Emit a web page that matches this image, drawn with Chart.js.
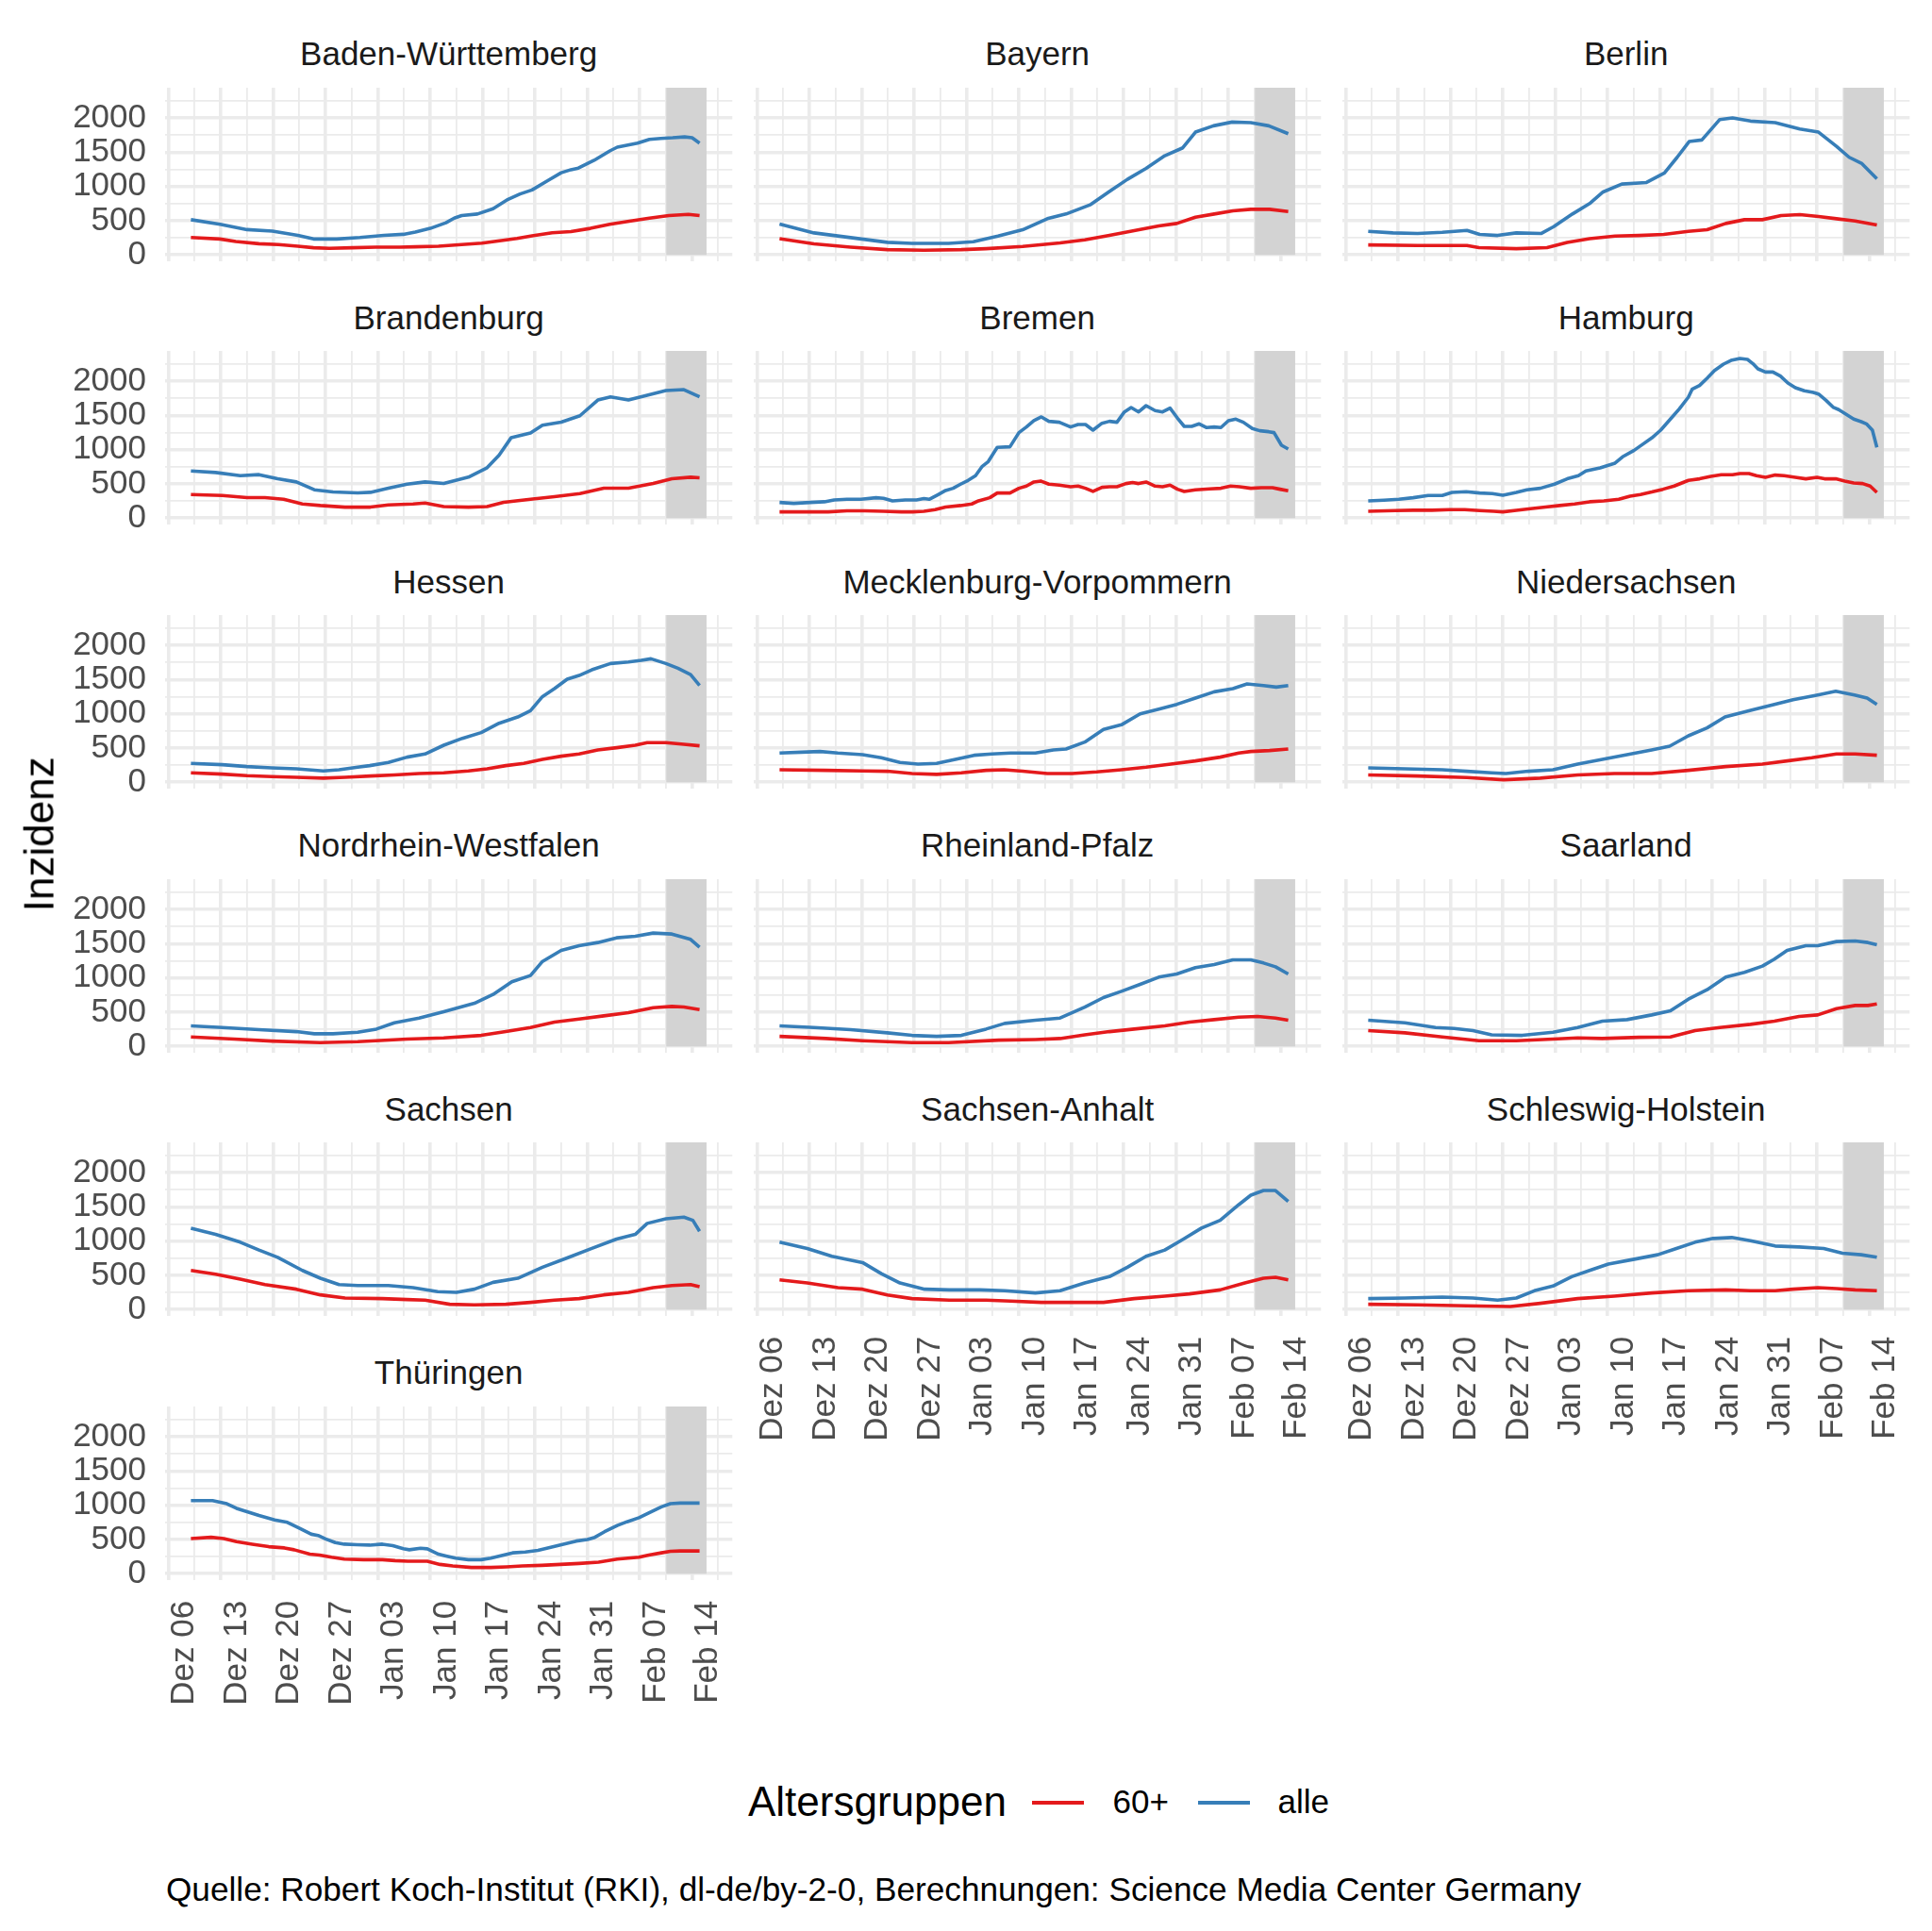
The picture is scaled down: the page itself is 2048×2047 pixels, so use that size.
<!DOCTYPE html>
<html lang="de">
<head>
<meta charset="utf-8">
<title>Inzidenz nach Altersgruppen</title>
<script src="https://cdn.jsdelivr.net/npm/chart.js@4.4.1/dist/chart.umd.min.js"></script>
<style>
html,body{margin:0;padding:0;background:#ffffff;}
body{position:relative;width:2048px;height:2047px;overflow:hidden;font-family:"Liberation Sans",Arial,Helvetica,sans-serif;}
canvas{position:absolute;}
.txt{position:absolute;white-space:nowrap;}
</style>
</head>
<body>
<script>
// ---------- data (day index: 0 = Dez 06) ----------
const tickLabels = ['Dez 06','Dez 13','Dez 20','Dez 27','Jan 03','Jan 10','Jan 17','Jan 24','Jan 31','Feb 07','Feb 14'];
const yLabels = [0, 500, 1000, 1500, 2000];
const seriesNames = ['60+', 'alle'];
const stateNames = ['Baden-Württemberg','Bayern','Berlin','Brandenburg','Bremen','Hamburg','Hessen','Mecklenburg-Vorpommern','Niedersachsen','Nordrhein-Westfalen','Rheinland-Pfalz','Saarland','Sachsen','Sachsen-Anhalt','Schleswig-Holstein','Thüringen'];
const delayFrom = 66.55, delayTo = 71.93;   // grey band (Meldeverzug)

const bw60 = [[3,255],[6.9,233],[9,196],[12.1,164],[14.7,151],[17.3,128],[19.4,105],[21.5,96],[24.6,105],[27.7,114],[30.9,114],[33,119],[36.1,128],[39.2,151],[41.9,173],[44.5,210],[46.6,242],[48.6,278],[51.3,324],[53.8,342],[56.4,388],[59,447],[61.6,493],[64.3,538],[66.9,575],[69.5,593],[71,575]];
const bwAlle = [[3,515],[6.9,447],[10.5,370],[13.9,347],[17.3,287],[19.4,233],[22.5,233],[25.6,255],[28.8,287],[31.4,301],[33,333],[35,388],[37.1,470],[38.2,538],[39.2,575],[41.3,598],[43.4,675],[45.4,812],[47,890],[48.6,949],[50.7,1086],[52.5,1200],[53.8,1245],[54.8,1268],[56.9,1382],[59,1519],[60,1574],[62.7,1633],[64.3,1688],[65.8,1702],[67.4,1711],[69,1724],[70,1711],[71,1633]];
const by60 = [[3,239],[7.6,161],[12.5,115],[17.4,78],[22.3,69],[27.3,78],[30.6,92],[35.5,124],[40.5,175],[43.8,221],[47.1,285],[50.4,354],[53.7,423],[56.1,460],[58.6,552],[61.1,598],[63.6,644],[66,667],[68.5,667],[71,635]];
const byAlle = [[3,451],[7.6,322],[12.5,253],[17.4,184],[20.7,170],[25.6,170],[28.9,193],[32.2,276],[35.5,368],[38.8,529],[41.3,598],[44.6,736],[47,920],[49.5,1104],[52,1265],[54.5,1449],[56.9,1564],[58.6,1794],[61,1886],[63.5,1941],[66,1932],[68.4,1886],[71,1771]];
const be60 = [[3,147],[9.6,138],[16.2,138],[17.8,106],[22.8,92],[26.9,106],[29.6,184],[32.6,239],[36,276],[39.2,285],[42.5,299],[45.8,345],[48.3,368],[50.8,460],[53.3,515],[55.7,515],[58.2,575],[60.7,589],[63.2,561],[65.6,529],[68.1,497],[71,437]];
const beAlle = [[3,345],[6.3,322],[9.6,313],[12.9,331],[16.2,359],[17.9,299],[20.3,285],[22.8,322],[26.1,313],[27.8,414],[30.3,598],[32.7,759],[34.4,920],[36.9,1035],[40.2,1058],[42.6,1196],[44.3,1426],[45.9,1656],[47.6,1679],[50,1978],[51.7,2001],[54.1,1955],[57.4,1932],[60.7,1840],[63.2,1794],[65.6,1587],[67.3,1426],[69,1334],[71,1113]];
const bb60 = [[3,345],[7.2,331],[10.5,299],[12.9,299],[15.4,276],[17.9,207],[20.3,184],[23.6,161],[27,161],[29.4,193],[32.7,207],[34.3,221],[36.8,170],[40.1,161],[42.6,170],[44.8,230],[48.4,276],[51.6,313],[55,359],[58.2,437],[61.5,437],[64.8,506],[67.3,575],[69.8,598],[71,589]];
const bbAlle = [[3,690],[6.3,667],[9.6,621],[12.1,635],[14.6,575],[17.1,529],[19.5,414],[22,382],[25.3,368],[27,377],[29.4,437],[31.9,497],[34.3,529],[36.8,506],[40.1,598],[42.6,736],[44.2,920],[45.8,1173],[48.4,1242],[50,1357],[52.5,1403],[55,1495],[57.4,1725],[59.1,1771],[61.5,1725],[64,1794],[66.5,1863],[68.9,1877],[71,1771]];
const hb60 = [[3,92],[7.1,92],[9.5,92],[12,106],[14.4,106],[16.9,101],[19.3,92],[20.8,92],[22.3,101],[23.8,124],[25.2,161],[27.2,184],[28.7,207],[29.6,252],[31.1,298],[32.1,367],[33.8,367],[35,436],[36,468],[37,528],[37.9,542],[39,496],[40.4,482],[41.9,459],[42.9,468],[43.9,436],[44.9,390],[46.1,450],[47.1,459],[48.1,459],[49.3,505],[50.2,519],[51,505],[52,528],[53.2,468],[54.2,459],[55.2,482],[56.2,422],[57.1,390],[58.6,413],[60.5,427],[62,436],[63.3,468],[64.5,459],[66,436],[67.4,445],[68.9,445],[69.9,422],[71,399]];
const hbAlle = [[3,229],[4.9,216],[7.1,229],[9,239],[10.3,266],[12,275],[13.9,275],[15.9,298],[16.9,289],[18.1,252],[19.8,266],[21.3,266],[22.3,285],[23,275],[24.2,344],[25.2,404],[26.2,436],[27.2,496],[28.2,551],[29.2,620],[30.1,757],[30.9,826],[32.1,1033],[33.8,1042],[35,1249],[36,1331],[37,1423],[38,1478],[39,1414],[40.4,1400],[41.9,1331],[42.9,1368],[43.9,1368],[44.9,1285],[46.1,1386],[47.1,1414],[48.1,1400],[49.1,1551],[50,1616],[51,1551],[52,1643],[53.2,1570],[54.2,1551],[55.2,1607],[56.2,1460],[57.1,1340],[58.1,1340],[59.1,1377],[60.1,1322],[61.1,1331],[62,1322],[63,1423],[64,1446],[65,1400],[66.2,1308],[67.2,1276],[68.4,1262],[69.1,1249],[70.1,1065],[71,1010]];
const hh60 = [[3,101],[6.6,110],[9,115],[11.5,115],[13.9,124],[15.9,124],[17.9,110],[19.8,101],[21,92],[22.8,115],[24.7,138],[26.7,161],[28.6,184],[30.6,207],[32.6,239],[34.5,252],[36.5,275],[38,321],[39.4,344],[40.9,381],[42.4,422],[43.9,468],[45.8,551],[47.3,574],[48.8,610],[50.2,633],[51.7,633],[52.7,652],[53.9,652],[54.9,620],[56.1,597],[57.4,629],[58.6,620],[60.1,597],[61.5,574],[63,597],[64,574],[65.5,574],[66.7,542],[67.9,514],[69.1,505],[70.1,468],[71,376]];
const hhAlle = [[3,252],[5.1,262],[7.1,275],[9,298],[11,330],[12.9,330],[14.2,376],[16.1,386],[17.9,367],[19.6,358],[21,335],[22.8,376],[24.2,413],[26,436],[27.9,496],[29.6,574],[31.1,620],[32.1,689],[34,734],[36,803],[37,895],[38.5,987],[39.4,1056],[40.9,1170],[42.1,1285],[43.4,1446],[44.6,1597],[45.8,1767],[46.3,1882],[47.3,1937],[48.3,2043],[49.3,2157],[50.5,2249],[51.5,2304],[52.7,2332],[53.7,2318],[54.4,2258],[55.1,2180],[56.1,2134],[57.1,2134],[58.1,2075],[59.1,1974],[60.1,1905],[61.3,1859],[62.5,1836],[63.2,1813],[64.2,1721],[65.2,1616],[65.9,1584],[66.9,1515],[67.9,1446],[68.9,1409],[69.6,1377],[70.4,1285],[71,1033]];
const he60 = [[3,138],[7.2,119],[10.5,96],[13.8,83],[17.1,73],[20.7,60],[23.6,73],[27,92],[30.2,106],[33.5,128],[36.8,138],[40.1,165],[42.6,197],[45.1,243],[47.5,275],[50,335],[52.5,381],[54.9,413],[57.4,472],[59.9,505],[62.4,541],[64,578],[66.5,578],[68.9,555],[71,532]];
const heAlle = [[3,275],[7.2,257],[10.5,229],[13.8,211],[17.1,197],[18.7,183],[20.7,165],[22.8,183],[25.3,220],[26.9,243],[29.4,289],[31.9,367],[34.3,413],[36.8,541],[39.3,642],[41.8,725],[44.2,862],[46.7,954],[48.4,1046],[50,1252],[51.6,1367],[53.3,1505],[54.9,1560],[56.6,1642],[59.1,1734],[61.5,1757],[63.2,1780],[64.5,1803],[66.5,1734],[68.1,1665],[69.8,1573],[71,1413]];
const mv60 = [[3,183],[9.2,174],[14.1,165],[17.4,161],[20.7,128],[24,115],[27.3,138],[30.6,174],[33,183],[35.5,161],[38.8,128],[42.1,128],[45.4,151],[48.7,183],[52,220],[55.3,266],[58.6,312],[61.9,367],[64.4,427],[66,450],[68.5,463],[71,486]];
const mvAlle = [[3,427],[5.9,440],[8.4,450],[10.8,427],[14.1,404],[16.6,358],[19.1,289],[21.5,266],[24,275],[26.5,335],[29,394],[31.4,413],[33.9,427],[37.2,427],[39.6,472],[41.3,486],[43.8,587],[46.3,771],[48.7,839],[51.2,1000],[53.7,1069],[56.1,1138],[58.6,1229],[61.1,1321],[63.6,1367],[65.5,1436],[67.7,1413],[69.4,1390],[71,1413]];
const ni60 = [[3,106],[9.6,92],[16.2,69],[21.1,37],[26,60],[31,106],[35.9,128],[40.9,128],[45.8,174],[50.8,229],[55.7,266],[59,312],[62.3,358],[65.6,413],[68.1,413],[71,394]];
const niAlle = [[3,211],[7.9,197],[12.9,183],[16.2,161],[19.5,138],[21.4,128],[24.4,161],[27.7,183],[31,266],[34.3,335],[37.6,404],[40.9,472],[43.3,527],[45.8,679],[48.3,794],[50.7,954],[54,1046],[57.3,1138],[59.8,1206],[63.1,1275],[65.5,1330],[68,1275],[69.7,1229],[71,1138]];
const nw60 = [[3,138],[8.8,106],[13.8,78],[20.3,55],[25.3,69],[31.9,106],[36.8,124],[41.8,161],[45.1,216],[48.4,276],[51.6,354],[54.9,400],[58.2,446],[61.5,492],[64.8,566],[67.3,584],[68.9,575],[71,538]];
const nwAlle = [[3,299],[7.2,276],[12.1,244],[17.1,216],[19.5,184],[22,184],[25.3,207],[27.8,253],[30.2,345],[33.5,414],[36.8,506],[40.9,630],[43.4,759],[45.9,943],[48.4,1035],[50,1241],[52.5,1402],[54.9,1471],[57.4,1517],[59.9,1586],[62.4,1609],[64.8,1655],[67.3,1641],[69.8,1563],[71,1448]];
const rp60 = [[3,147],[9.2,115],[14.1,83],[20.7,55],[25.6,55],[32.3,92],[37.2,101],[40.5,115],[43.8,170],[47.1,216],[50.4,253],[54.5,299],[57.8,354],[61.1,391],[64.4,428],[66.9,437],[69.3,414],[71,382]];
const rpAlle = [[3,299],[7.6,276],[12.5,244],[17.4,198],[20.7,161],[24,147],[27.3,161],[30.6,253],[33.1,336],[37.2,382],[40.5,414],[43.8,575],[46.3,713],[48.7,805],[51.2,906],[53.7,1012],[56.1,1058],[58.6,1150],[61.1,1196],[63.6,1264],[66,1264],[67.7,1218],[69.3,1163],[71,1058]];
const sl60 = [[3,230],[7.9,198],[12.9,138],[17.8,83],[22.8,83],[27.7,106],[31,124],[34.3,115],[39.2,133],[43.4,138],[46.7,230],[50,276],[54.1,322],[57.3,368],[60.6,437],[63.1,460],[65.6,552],[68.1,598],[69.8,598],[71,621]];
const slAlle = [[3,382],[7.9,345],[12,276],[14.5,262],[17,230],[19.5,170],[23.6,161],[27.7,207],[31,276],[34.3,368],[37.6,391],[40.9,460],[43.4,520],[45.8,690],[48.3,828],[50.8,1012],[53.3,1081],[55.7,1173],[57.3,1274],[59,1402],[61.5,1471],[63.1,1471],[65.6,1531],[68.1,1540],[69.8,1517],[71,1485]];
const sn60 = [[3,572],[6.3,517],[9.6,444],[12.9,366],[17.1,298],[20.3,215],[23.6,169],[28.6,160],[31.9,146],[34.3,137],[37.6,78],[40.9,69],[45.1,78],[48.4,105],[51.6,137],[54.9,160],[58.2,215],[61.5,252],[64.8,320],[67.3,352],[69.8,366],[71,334]];
const snAlle = [[3,1190],[6.3,1098],[9.6,984],[12.1,870],[14.6,764],[17.9,572],[20.3,458],[22.8,366],[25.3,352],[29.4,352],[32.7,320],[36,261],[38.5,252],[40.9,298],[43.4,398],[46.7,458],[50,618],[53.3,755],[56.6,893],[59.9,1030],[62.4,1098],[64,1259],[66.5,1327],[68.9,1350],[70.1,1304],[71,1144]];
const st60 = [[3,435],[6.7,389],[10.8,320],[14.1,298],[17.4,215],[20.7,160],[25.7,137],[30.6,137],[33.9,124],[38,105],[42.1,105],[46.3,105],[50.4,160],[54.5,197],[57.8,229],[61.9,288],[65.2,389],[67.7,458],[69.3,471],[71,435]];
const stAlle = [[3,984],[6.7,893],[10,778],[14.1,687],[16.6,526],[19.1,389],[22.4,298],[25.7,288],[29.8,288],[33.1,275],[37.2,243],[40.5,275],[43.8,389],[47.1,481],[49.5,618],[52,778],[54.5,870],[57,1030],[59.4,1190],[61.9,1304],[64.4,1533],[66,1670],[67.7,1739],[69.3,1739],[71,1579]];
const sh60 = [[3,78],[9.6,69],[16.2,55],[22,46],[26,92],[31,160],[35.9,197],[40.9,243],[45.8,275],[50.8,288],[54.1,275],[57.4,275],[59.8,298],[63.1,320],[65.6,307],[68.1,288],[71,275]];
const shAlle = [[3,160],[7.9,169],[12.9,183],[17,169],[20.3,137],[22.8,169],[25.2,275],[27.7,343],[30.2,481],[32.6,572],[35.1,664],[38.4,732],[41.7,801],[44.2,893],[46.7,984],[49.1,1039],[51.6,1053],[54.1,1007],[57.4,929],[60.6,915],[63.9,893],[66.4,824],[68.9,801],[71,764]];
const th60 = [[3,514],[5.7,532],[7.4,514],[9.1,468],[11.2,432],[13.4,395],[15.5,377],[16.8,350],[18.9,286],[20.2,273],[21.8,241],[23.5,214],[26.1,205],[28.6,205],[30.3,191],[32,182],[34.6,182],[36.3,136],[38,114],[40.5,91],[43.1,91],[45.2,100],[47.3,114],[49.9,123],[52.4,136],[54.9,150],[57.5,168],[60,214],[62.9,241],[64.2,273],[65.9,305],[67.1,327],[68.4,332],[71,332]];
const thAlle = [[3,1068],[5.9,1068],[7.8,1023],[9.1,955],[10.4,909],[12.1,850],[14.2,786],[15.9,750],[17.6,659],[19.1,577],[20,559],[21,509],[22.3,455],[23.5,432],[25.2,423],[26.9,418],[28.6,432],[30,409],[31.4,364],[32.2,350],[33.7,373],[34.6,364],[36.1,286],[37.1,259],[38.4,227],[40.1,205],[41.8,205],[43.1,227],[44.8,273],[46,305],[47.7,318],[49.4,341],[51.1,386],[52.8,432],[54.5,477],[56,500],[57,532],[58.3,614],[60,705],[61.3,759],[62.9,818],[64.2,886],[65.9,977],[67.1,1023],[68.4,1032],[71,1032]];

const series60 = [bw60, by60, be60, bb60, hb60, hh60, he60, mv60, ni60, nw60, rp60, sl60, sn60, st60, sh60, th60];
const seriesAlle = [bwAlle, byAlle, beAlle, bbAlle, hbAlle, hhAlle, heAlle, mvAlle, niAlle, nwAlle, rpAlle, slAlle, snAlle, stAlle, shAlle, thAlle];

// ---------- layout / style ----------
const FONT = '"Liberation Sans", Arial, Helvetica, sans-serif';
const COLORS = ['#E41A1C', '#377EB8'];
const X_MIN = -0.45, X_MAX = 75.38, Y_MIN = -90, Y_MAX = 2442;
const COL_L = [175, 799, 1423], ROW_T0 = 92.7, ROW_STEP = 279.6;
const PW = 601.3, PH = 183.8;
const SMALL = 35, BIG = 44;

Chart.defaults.font.family = FONT;

const xGrid = []; for (let v = 0; v <= 73.5; v += 3.5) xGrid.push(v);
const yGrid = []; for (let v = 0; v <= 2250; v += 250) yGrid.push(v);

function addText(str, x, baseline, size, color, align, extra) {
  const d = document.createElement('div');
  d.className = 'txt';
  d.textContent = str;
  d.style.fontSize = size + 'px';
  d.style.lineHeight = size + 'px';
  d.style.color = color;
  d.style.top = (baseline - 0.8465 * size) + 'px';
  d.style.left = x + 'px';
  if (align === 'center') d.style.transform = 'translateX(-50%)';
  if (extra) Object.assign(d.style, extra);
  document.body.appendChild(d);
  return d;
}

function noPad(s) { s.paddingLeft = 0; s.paddingRight = 0; s.paddingTop = 0; s.paddingBottom = 0; }

const shadePlugin = {
  id: 'delayShade',
  beforeDatasetsDraw(chart) {
    const {ctx, chartArea, scales} = chart;
    const x0 = scales.x.getPixelForValue(delayFrom);
    const x1 = scales.x.getPixelForValue(delayTo);
    const y0 = scales.y.getPixelForValue(0);
    ctx.save();
    ctx.fillStyle = '#D3D3D3';
    ctx.fillRect(x0, chartArea.top, x1 - x0, y0 - chartArea.top);
    ctx.restore();
  }
};

stateNames.forEach((name, i) => {
  const r = Math.floor(i / 3), c = i % 3;
  const L = COL_L[c], T = ROW_T0 + ROW_STEP * r;
  const showX = (i >= 13);
  const padL = 170, padT = 6;
  const xh = showX ? 150 : 8;
  const cw = Math.ceil(padL + PW + 8);
  const ch = Math.ceil(padT + PH + xh + 1);
  const padR = cw - padL - PW;
  const padB = ch - padT - PH - xh;

  const cv = document.createElement('canvas');
  cv.width = cw; cv.height = ch;
  cv.style.width = cw + 'px'; cv.style.height = ch + 'px';
  cv.style.left = (L - padL) + 'px';
  cv.style.top = (T - padT) + 'px';
  document.body.appendChild(cv);

  addText(name, L + PW / 2, T - 23.7, SMALL, '#1A1A1A', 'center');

  new Chart(cv, {
    type: 'line',
    data: {
      datasets: [series60[i], seriesAlle[i]].map((s, k) => ({
        label: seriesNames[k],
        data: s.map(p => ({x: p[0], y: p[1]})),
        borderColor: COLORS[k],
        borderWidth: 3.6,
        pointRadius: 0,
        tension: 0,
        fill: false,
        borderJoinStyle: 'round'
      }))
    },
    options: {
      responsive: false,
      animation: false,
      events: [],
      layout: {autoPadding: false, padding: {left: 0, top: padT, right: padR, bottom: padB}},
      plugins: {legend: {display: false}, tooltip: {enabled: false}},
      scales: {
        x: {
          type: 'linear', min: X_MIN, max: X_MAX,
          afterBuildTicks: s => { s.ticks = xGrid.map(v => ({value: v})); },
          afterFit: s => { s.height = xh; noPad(s); },
          border: {display: false},
          grid: {color: '#EBEBEB', drawTicks: false,
                 lineWidth: ctx => (ctx.tick && ctx.tick.value % 7 === 0) ? 3.6 : 1.8},
          ticks: {display: showX, autoSkip: false, minRotation: 90, maxRotation: 90,
                  padding: 22, labelOffset: 17, color: '#4D4D4D', font: {size: SMALL, family: FONT},
                  callback: v => (v % 7 === 0 ? tickLabels[v / 7] : '')}
        },
        y: {
          type: 'linear', min: Y_MIN, max: Y_MAX,
          afterBuildTicks: s => { s.ticks = yGrid.map(v => ({value: v})); },
          afterFit: s => { s.width = padL; noPad(s); },
          border: {display: false},
          grid: {color: '#EBEBEB', drawTicks: false,
                 lineWidth: ctx => (ctx.tick && ctx.tick.value % 500 === 0) ? 3.6 : 1.8},
          ticks: {display: c === 0, autoSkip: false, padding: 20, color: '#4D4D4D', font: {size: SMALL, family: FONT},
                  callback: v => (yLabels.includes(v) ? String(v) : '')}
        }
      }
    },
    plugins: [shadePlugin]
  });
});

// axis title
addText('Inzidenz', 41, 884 + 0.36 * BIG, BIG, '#000000', 'left',
        {transform: 'translate(-50%, 0) rotate(-90deg)', transformOrigin: '50% ' + (0.8465 * BIG - 0.36 * BIG) + 'px'});

// legend
addText('Altersgruppen', 793, 1925, BIG, '#000000', 'left');
[[1094, 1179.5], [1270, 1354.5]].forEach((pos, k) => {
  const key = document.createElement('div');
  key.style.position = 'absolute';
  key.style.left = pos[0] + 'px';
  key.style.width = '55px';
  key.style.top = (1911 - 2) + 'px';
  key.style.height = '4px';
  key.style.background = COLORS[k];
  document.body.appendChild(key);
  addText(seriesNames[k], pos[1], 1922, SMALL, '#000000', 'left');
});

// caption
addText('Quelle: Robert Koch-Institut (RKI), dl-de/by-2-0, Berechnungen: Science Media Center Germany', 176, 2015, 35.2, '#000000', 'left');
</script>
</body>
</html>
